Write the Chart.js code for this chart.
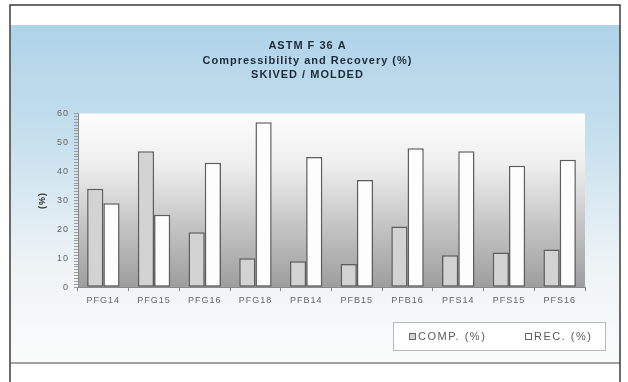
<!DOCTYPE html>
<html>
<head>
<meta charset="utf-8">
<script src="https://cdn.jsdelivr.net/npm/chart.js@4"></script>
<style>
  html, body { margin: 0; padding: 0; background: #ffffff; }
  #wrap { width: 628px; height: 382px; }
</style>
</head>
<body>
<div id="wrap"><canvas id="gasketChart" width="628" height="382"></canvas></div>
<script>
// Samples and measured values (%)
const samples = ['PFG14', 'PFG15', 'PFG16', 'PFG18', 'PFB14', 'PFB15', 'PFB16', 'PFS14', 'PFS15', 'PFS16'];
const compValues = [34, 47, 19, 10, 9, 8, 21, 11, 12, 13];
const recValues = [29, 25, 43, 57, 45, 37, 48, 47, 42, 44];
const titleLines = ['ASTM F 36 A', 'Compressibility and Recovery (%)', 'SKIVED / MOLDED'];
const yTicks = [0, 10, 20, 30, 40, 50, 60];

const FONT = 'Liberation Sans, Arial, sans-serif';

// Wide-set lettering used throughout
const spacing = {
  id: 'spacing',
  beforeUpdate(chart) { chart.ctx.letterSpacing = '1px'; },
  beforeRender(chart) { chart.ctx.letterSpacing = '1px'; }
};

// Frame, blue panel, shaded plot wall and boxed legend
const backdrop = {
  id: 'backdrop',
  beforeDraw(chart) {
    const { ctx, chartArea: a } = chart;
    ctx.save();
    ctx.fillStyle = '#ffffff';
    ctx.fillRect(0, 0, chart.width, chart.height);

    const panel = ctx.createLinearGradient(0, 25, 0, 363);
    panel.addColorStop(0, '#b0d3e9');
    panel.addColorStop(0.3, '#c3deed');
    panel.addColorStop(0.7, '#edf3f6');
    panel.addColorStop(1, '#fbfbfb');
    ctx.fillStyle = panel;
    ctx.fillRect(11, 25, 609, 338);

    ctx.strokeStyle = '#a0a0a0';
    ctx.lineWidth = 2;
    ctx.beginPath();
    ctx.moveTo(11, 363);
    ctx.lineTo(620, 363);
    ctx.stroke();

    const wall = ctx.createLinearGradient(0, a.top, 0, a.bottom);
    wall.addColorStop(0, '#fdfdfd');
    wall.addColorStop(0.3, '#eeeeee');
    wall.addColorStop(0.65, '#c4c4c4');
    wall.addColorStop(1, '#9e9e9e');
    ctx.fillStyle = wall;
    ctx.fillRect(a.left, a.top, a.right - a.left, a.bottom - a.top);

    ctx.strokeStyle = '#3a3a3a';
    ctx.lineWidth = 1.5;
    ctx.strokeRect(10, 5, 610, 390);
    ctx.restore();
  },
  afterDraw(chart) {
    const ctx = chart.ctx;
    const sets = chart.data.datasets;
    const itemX = [409, 525];
    const cy = 336;
    ctx.save();
    ctx.fillStyle = '#ffffff';
    ctx.fillRect(393, 322, 212, 28);
    ctx.strokeStyle = '#b8b8b8';
    ctx.lineWidth = 1;
    ctx.strokeRect(393.5, 322.5, 212, 28);

    ctx.font = '11px ' + FONT;
    ctx.letterSpacing = '1.5px';
    ctx.textBaseline = 'middle';
    sets.forEach((ds, i) => {
      const x = itemX[i];
      ctx.fillStyle = ds.backgroundColor;
      ctx.fillRect(x, cy - 3, 6, 6);
      ctx.strokeStyle = '#666666';
      ctx.strokeRect(x + 0.5, cy - 2.5, 6, 6);
      ctx.fillStyle = '#5a5a5a';
      ctx.fillText(ds.label, x + 9, cy + 0.5);
    });
    ctx.restore();
  }
};

new Chart('gasketChart', {
  type: 'bar',
  data: {
    labels: samples,
    datasets: [{
      label: 'COMP. (%)',
      data: compValues,
      backgroundColor: '#d3d3d3',
      borderColor: '#5e5e5e',
      borderWidth: 1.5,
      borderSkipped: false
    }, {
      label: 'REC. (%)',
      data: recValues,
      backgroundColor: '#fdfdfd',
      borderColor: '#5e5e5e',
      borderWidth: 1.5,
      borderSkipped: false
    }]
  },
  options: {
    responsive: false,
    animation: false,
    devicePixelRatio: 1,
    layout: { padding: { left: 30, right: 43, top: 0, bottom: 72 } },
    datasets: { bar: { categoryPercentage: 0.64, barPercentage: 1 } },
    plugins: {
      title: {
        display: true,
        text: titleLines,
        color: '#1d2b38',
        font: { family: FONT, size: 11, weight: 'bold', lineHeight: 1.32 },
        padding: { top: 39, bottom: 31 }
      },
      legend: { display: false },
      tooltip: { enabled: false }
    },
    scales: {
      x: {
        grid: { display: true, drawOnChartArea: false, color: '#8a8a8a', tickLength: 4, offset: true },
        border: { color: '#8a8a8a', width: 1 },
        ticks: {
          color: '#666666',
          padding: 4,
          maxRotation: 0,
          font: { family: FONT, size: 9 }
        }
      },
      y: {
        min: 0,
        max: 60,
        afterFit(scale) { scale.width = 48; },
        afterBuildTicks(scale) {
          // one mark per unit, numbered every ten
          const t = [];
          for (let v = 0; v <= 60; v++) t.push({ value: v });
          scale.ticks = t;
        },
        grid: { display: true, drawOnChartArea: false, color: '#9a9a9a', tickLength: 4 },
        border: { color: '#8a8a8a', width: 1 },
        ticks: {
          autoSkip: false,
          color: '#666666',
          padding: 5,
          font: { family: FONT, size: 9 },
          callback: v => (yTicks.includes(v) ? v : '')
        },
        title: {
          display: true,
          text: '(%)',
          color: '#333333',
          padding: { top: 7, bottom: 0 },
          font: { family: FONT, size: 9, weight: 'bold' }
        }
      }
    }
  },
  plugins: [spacing, backdrop]
});
</script>
</body>
</html>
